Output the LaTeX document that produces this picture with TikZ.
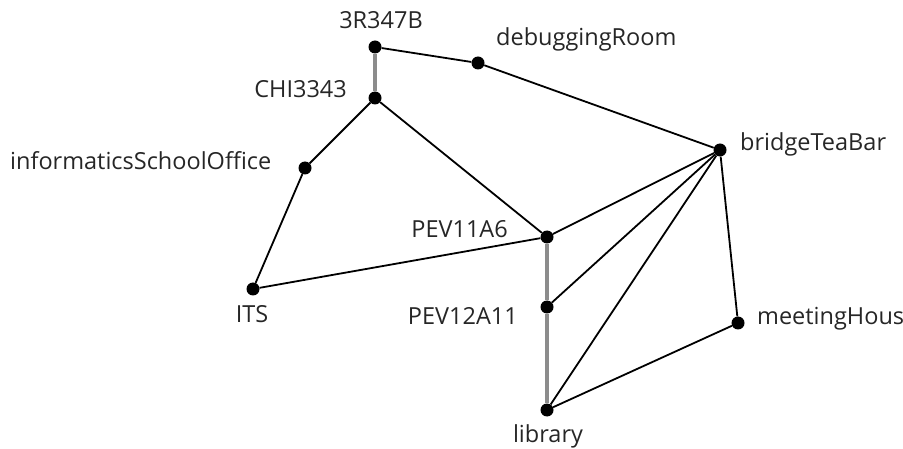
\documentclass[tikz,border=0pt]{standalone}
\usepackage{fontspec}
\setmainfont{Open Sans}
\begin{document}
\begin{tikzpicture}[x=1pt,y=-1pt,
  dot/.style={circle,fill=black,inner sep=0pt,minimum size=13pt},
  lbl/.style={inner sep=0pt,font=\fontsize{23.5}{24}\selectfont,text=black!85},
  edge/.style={line width=1.8pt,black},
  gedge/.style={line width=3.6pt,black!45}]
\useasboundingbox (0,0) rectangle (903,449);
\clip (0,0) rectangle (903,449);
\node[dot] (a) at (375,47) {};
\node[dot] (d) at (478,63) {};
\node[dot] (c) at (375,98) {};
\node[dot] (i) at (305,168) {};
\node[dot] (b) at (720,150) {};
\node[dot] (p1) at (547,237) {};
\node[dot] (t) at (253,289) {};
\node[dot] (p2) at (547,307) {};
\node[dot] (m) at (738,323) {};
\node[dot] (l) at (547,410) {};
\node[lbl,anchor=base] (la) at (381,29) {3R347B};
\node[lbl,anchor=base west] (ld) at (496,46) {debuggingRoom};
\node[lbl,anchor=base east] (lc) at (347,98) {CHI3343};
\node[lbl,anchor=base west] (li) at (10,170) {informaticsSchoolOffice};
\node[lbl,anchor=base west] (lb) at (740,151) {bridgeTeaBar};
\node[lbl,anchor=base east] (lp1) at (508,238) {PEV11A6};
\node[lbl,anchor=base] (lt) at (252,323) {ITS};
\node[lbl,anchor=base east] (lp2) at (518,325) {PEV12A11};
\node[lbl,anchor=base west] (lm) at (757,325) {meetingHouse};
\node[lbl,anchor=base] (ll) at (548,442) {library};
\draw[gedge] (a) -- (c);
\draw[gedge] (p1) -- (p2);
\draw[gedge] (p2) -- (l);
\draw[edge] (a) -- (d);
\draw[edge] (d) -- (b);
\draw[edge] (c) -- (i);
\draw[edge] (c) -- (p1);
\draw[edge] (i) -- (t);
\draw[edge] (t) -- (p1);
\draw[edge] (p1) -- (b);
\draw[edge] (p2) -- (b);
\draw[edge] (l) -- (b);
\draw[edge] (b) -- (m);
\draw[edge] (m) -- (l);
\end{tikzpicture}
\end{document}
